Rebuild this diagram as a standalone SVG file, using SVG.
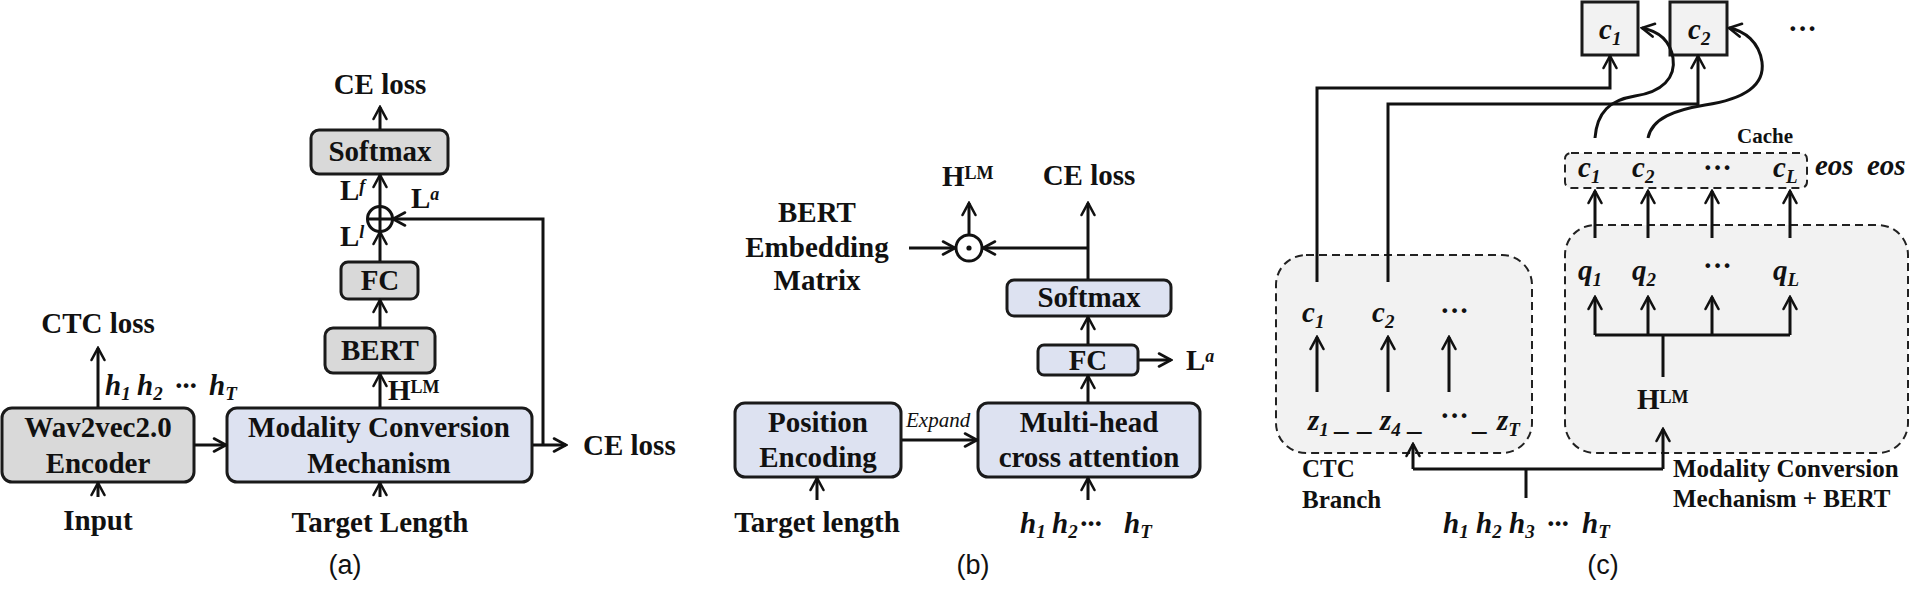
<svg xmlns="http://www.w3.org/2000/svg" width="1931" height="592" viewBox="0 0 1931 592">
<style>
.box{stroke:#1a1a1a;stroke-width:3}
.g{fill:#d9d9d9}.l{fill:#dde2f1}.c{fill:#f2f2f2}
.dash{fill:#f2f2f2;stroke:#222;stroke-width:2;stroke-dasharray:8 5}
.t{font-family:"Liberation Serif","Times New Roman",serif;font-weight:bold;font-size:29px;fill:#111}
.m{text-anchor:middle}
.it{font-style:italic}
.sub{font-size:19px}
.sup{font-size:18px}
.sm{font-size:25px}
.ex{font-weight:normal;font-style:italic;font-size:21px}
.cache{font-size:21px}
.cap{font-family:"Liberation Sans",Arial,sans-serif;font-size:27px;fill:#111;text-anchor:middle}
.ln{fill:none;stroke:#111;stroke-width:3}
.arr{marker-end:url(#ah)}
</style>
<defs>
<marker id="ah" viewBox="0 0 16 16" refX="14" refY="8" markerWidth="16" markerHeight="16" markerUnits="userSpaceOnUse" orient="auto">
<path d="M2,1.5 L14,8 L2,14.5" fill="none" stroke="#111" stroke-width="2.6" stroke-linecap="round" stroke-linejoin="miter"/>
</marker>
</defs>
<rect width="1931" height="592" fill="#fff"/>

<!-- ===== Panel (a) ===== -->
<g id="a-wav2vec">
<rect class="box g" x="2" y="408" width="192" height="74" rx="10"/>
<text class="t m" x="98" y="437">Wav2vec2.0</text>
<text class="t m" x="98" y="473">Encoder</text>
</g>
<g id="a-mcm">
<rect class="box l" x="227" y="408" width="305" height="74" rx="10"/>
<text class="t m" x="379" y="437">Modality Conversion</text>
<text class="t m" x="379" y="473">Mechanism</text>
</g>
<g id="a-bert">
<rect class="box g" x="325" y="328" width="110" height="45" rx="8"/>
<text class="t m" x="380" y="360">BERT</text>
</g>
<g id="a-fc">
<rect class="box g" x="341" y="262" width="77" height="37" rx="7"/>
<text class="t m" x="380" y="290">FC</text>
</g>
<g id="a-softmax">
<rect class="box g" x="311" y="130" width="137" height="44" rx="8"/>
<text class="t m" x="380" y="161">Softmax</text>
</g>
<g id="a-add">
<circle cx="380" cy="219" r="12.5" fill="#fff" stroke="#111" stroke-width="3"/>
<path class="ln" d="M367.5,219 H392.5 M380,206.5 V231.5"/>
</g>
<g id="a-labels">
<text class="t m" x="98" y="333">CTC loss</text>
<text class="t m" x="98" y="530">Input</text>
<text class="t m" x="380" y="532">Target Length</text>
<text class="t m" x="380" y="94">CE loss</text>
<text class="t" x="583" y="455">CE loss</text>
<text class="t it" x="105" y="395">h<tspan class="sub" y="400">1</tspan><tspan x="137" y="395">h</tspan><tspan class="sub" y="400">2</tspan><tspan x="175" y="395">···</tspan><tspan x="209" y="395">h</tspan><tspan class="sub" y="400">T</tspan></text>
<text class="t" x="388" y="400">H<tspan class="sup" y="393">LM</tspan></text>
<text class="t" x="340" y="200">L<tspan class="sup it" y="192">f</tspan></text>
<text class="t" x="340" y="246">L<tspan class="sup it" y="238">l</tspan></text>
<text class="t" x="411" y="208">L<tspan class="sup it" y="200">a</tspan></text>
<text class="cap" x="345" y="574">(a)</text>
</g>

<!-- ===== Panel (b) ===== -->
<g id="b-pos">
<rect class="box l" x="735" y="403" width="166" height="74" rx="10"/>
<text class="t m" x="818" y="432">Position</text>
<text class="t m" x="818" y="467">Encoding</text>
</g>
<g id="b-mha">
<rect class="box l" x="978" y="403" width="222" height="74" rx="10"/>
<text class="t m" x="1089" y="432">Multi-head</text>
<text class="t m" x="1089" y="467">cross attention</text>
</g>
<g id="b-fc">
<rect class="box l" x="1038" y="345" width="100" height="30" rx="6"/>
<text class="t m" x="1088" y="370">FC</text>
</g>
<g id="b-softmax">
<rect class="box l" x="1007" y="280" width="164" height="36" rx="7"/>
<text class="t m" x="1089" y="307">Softmax</text>
</g>
<g id="b-dot">
<circle cx="969" cy="248" r="13" fill="#fff" stroke="#111" stroke-width="3"/>
<circle cx="969" cy="248" r="2.6" fill="#111"/>
</g>
<g id="b-labels">
<text class="t m" x="817" y="222">BERT</text>
<text class="t m" x="817" y="257">Embedding</text>
<text class="t m" x="817" y="290">Matrix</text>
<text class="t" x="942" y="186">H<tspan class="sup" y="179">LM</tspan></text>
<text class="t m" x="1089" y="185">CE loss</text>
<text class="t" x="1186" y="370">L<tspan class="sup it" y="362">a</tspan></text>
<text class="t ex" x="906" y="427">Expand</text>
<text class="t m" x="817" y="532">Target length</text>
<text class="t it" x="1020" y="533">h<tspan class="sub" y="538">1</tspan><tspan x="1052" y="533">h</tspan><tspan class="sub" y="538">2</tspan><tspan x="1080" y="533">···</tspan><tspan x="1124" y="533">h</tspan><tspan class="sub" y="538">T</tspan></text>
<text class="cap" x="973" y="574">(b)</text>
</g>

<!-- ===== Panel (c) ===== -->
<g id="c-ctc-branch">
<rect class="dash" x="1276" y="255" width="256" height="198" rx="30"/>
<text class="t it" x="1302" y="322">c<tspan class="sub" y="328">1</tspan></text>
<text class="t it" x="1372" y="322">c<tspan class="sub" y="328">2</tspan></text>
<text class="t" x="1440" y="320">···</text>
<text class="t it" x="1308" y="430">z<tspan class="sub" y="436">1</tspan></text>
<text class="t" x="1334" y="430">_</text>
<text class="t" x="1357" y="430">_</text>
<text class="t it" x="1380" y="430">z<tspan class="sub" y="436">4</tspan></text>
<text class="t" x="1407" y="430">_</text>
<text class="t" x="1440" y="425">···</text>
<text class="t" x="1472" y="430">_</text>
<text class="t it" x="1497" y="430">z<tspan class="sub" y="436">T</tspan></text>
<text class="t sm" x="1302" y="477">CTC</text>
<text class="t sm" x="1302" y="508">Branch</text>
</g>
<g id="c-mcm-bert">
<rect class="dash" x="1565" y="225" width="343" height="228" rx="30"/>
<text class="t it" x="1578" y="280">q<tspan class="sub" y="286">1</tspan></text>
<text class="t it" x="1632" y="280">q<tspan class="sub" y="286">2</tspan></text>
<text class="t" x="1703" y="275">···</text>
<text class="t it" x="1773" y="280">q<tspan class="sub" y="286">L</tspan></text>
<text class="t" x="1637" y="409">H<tspan class="sup" y="403">LM</tspan></text>
<text class="t sm" x="1673" y="477">Modality Conversion</text>
<text class="t sm" x="1673" y="507">Mechanism + BERT</text>
</g>
<g id="c-cache">
<rect class="dash" x="1565" y="153" width="242" height="35" rx="6"/>
<text class="t cache" x="1737" y="143">Cache</text>
<text class="t it" x="1578" y="177">c<tspan class="sub" y="183">1</tspan></text>
<text class="t it" x="1632" y="177">c<tspan class="sub" y="183">2</tspan></text>
<text class="t" x="1703" y="177">···</text>
<text class="t it" x="1773" y="177">c<tspan class="sub" y="183">L</tspan></text>
<text class="t it" x="1815" y="175">eos</text>
<text class="t it" x="1867" y="175">eos</text>
</g>
<g id="c-out1">
<rect class="box c" x="1582" y="2" width="56" height="53"/>
<text class="t it" x="1599" y="39">c<tspan class="sub" y="45">1</tspan></text>
</g>
<g id="c-out2">
<rect class="box c" x="1670" y="2" width="57" height="53"/>
<text class="t it" x="1688" y="39">c<tspan class="sub" y="45">2</tspan></text>
</g>
<g id="c-labels">
<text class="t" x="1788" y="38">···</text>
<text class="t it" x="1443" y="533">h<tspan class="sub" y="538">1</tspan><tspan x="1476" y="533">h</tspan><tspan class="sub" y="538">2</tspan><tspan x="1509" y="533">h</tspan><tspan class="sub" y="538">3</tspan><tspan x="1547" y="533">···</tspan><tspan x="1582" y="533">h</tspan><tspan class="sub" y="538">T</tspan></text>
<text class="cap" x="1603" y="574">(c)</text>
</g>

<!-- ===== Connectors ===== -->
<g id="connectors">
<!-- (a) -->
<path class="ln arr" d="M98,407 V348"/>
<path class="ln arr" d="M98,497 V483"/>
<path class="ln arr" d="M380,497 V483"/>
<path class="ln arr" d="M194,445 H226"/>
<path class="ln arr" d="M380,407 V374"/>
<path class="ln arr" d="M380,327 V300"/>
<path class="ln arr" d="M380,261 V232"/>
<path class="ln arr" d="M380,206 V175"/>
<path class="ln arr" d="M380,129 V107"/>
<path class="ln arr" d="M533,445 H566"/>
<path class="ln arr" d="M543,445 V219 H393"/>
<!-- (b) -->
<path class="ln arr" d="M817,500 V478"/>
<path class="ln arr" d="M1088,500 V478"/>
<path class="ln arr" d="M902,440 H977"/>
<path class="ln arr" d="M1088,402 V376"/>
<path class="ln arr" d="M1088,344 V317"/>
<path class="ln arr" d="M1139,360 H1171"/>
<path class="ln arr" d="M1088,279 V203"/>
<path class="ln arr" d="M1088,248 H983"/>
<path class="ln arr" d="M909,248 H955"/>
<path class="ln arr" d="M969,234 V203"/>
<!-- (c) -->
<path class="ln arr" d="M1317,392 V337"/>
<path class="ln arr" d="M1388,392 V337"/>
<path class="ln arr" d="M1449,392 V337"/>
<path class="ln arr" d="M1317,282 V88 H1610 V56"/>
<path class="ln arr" d="M1388,282 V104 H1698 V56"/>
<path class="ln arr" d="M1595,138 C1597,112 1610,100 1635,96 C1662,92 1676,78 1673,58 C1670,40 1658,31 1642,28"/>
<path class="ln arr" d="M1648,138 C1652,118 1675,110 1705,105 C1745,99 1765,85 1762,62 C1759,42 1745,31 1729,28"/>
<path class="ln arr" d="M1595,238 V191"/>
<path class="ln arr" d="M1648,238 V191"/>
<path class="ln arr" d="M1712,238 V191"/>
<path class="ln arr" d="M1790,238 V191"/>
<path class="ln" d="M1595,335 H1790 M1663,335 V377"/>
<path class="ln arr" d="M1595,335 V297"/>
<path class="ln arr" d="M1648,335 V297"/>
<path class="ln arr" d="M1712,335 V297"/>
<path class="ln arr" d="M1790,335 V297"/>
<path class="ln" d="M1413,469 H1663 M1526,498 V469"/>
<path class="ln arr" d="M1413,469 V444"/>
<path class="ln arr" d="M1663,469 V429"/>
</g>
</svg>
